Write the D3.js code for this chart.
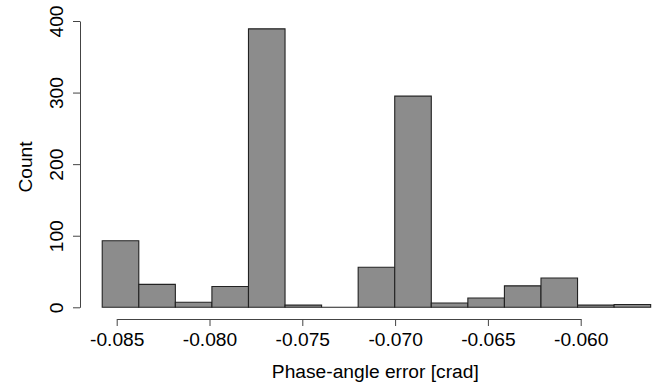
<!DOCTYPE html>
<html><head><meta charset="utf-8">
<script src="https://cdn.jsdelivr.net/npm/d3@7"></script>
<style>body{margin:0;background:#fff}svg{display:block}text{font-family:"Liberation Sans",Arial,sans-serif;fill:#000}</style>
</head><body>
<script>
const breaks = [-0.08578,-0.08381,-0.08184,-0.07987,-0.07790,-0.07593,-0.07396,-0.07199,-0.07002,-0.06805,-0.06608,-0.06411,-0.06214,-0.06017,-0.05820,-0.05623];
const counts = [93,32,7,29,389,3,0,56,295,6,13,30,41,3,4];
const xTicks = [-0.085,-0.080,-0.075,-0.070,-0.065,-0.060];
const xTickLabels = ["-0.085","-0.080","-0.075","-0.070","-0.065","-0.060"];
const yTicks = [0,100,200,300,400];
const xTitle = "Phase-angle error [crad]";
const yTitle = "Count";

const W=655,H=385;
const svg=d3.select("body").append("svg").attr("width",W).attr("height",H);
const x=d3.scaleLinear().domain([-0.085,-0.060]).range([116.7,580.7]);
const y=d3.scaleLinear().domain([0,400]).range([307.3,21]);
const fs=19.2;

const bins=counts.map((c,i)=>({x0:breaks[i],x1:breaks[i+1],c}));
svg.append("g").selectAll("path").data(bins).join("path")
  .attr("d",d=>{const a=x(d.x0),b=x(d.x1),t=y(d.c),z=y(0);return `M${a},${z}H${b}V${t}H${a}Z`;})
  .attr("fill","#8c8c8c").attr("stroke","#222").attr("stroke-width",1.1);

const xa=svg.append("g").attr("transform","translate(0,319)")
  .call(d3.axisBottom(x).tickValues(xTicks).tickFormat((d,i)=>xTickLabels[i]).tickSize(7).tickSizeOuter(0).tickPadding(6));
xa.selectAll("text").attr("font-size",fs).attr("font-family","Liberation Sans, Arial, sans-serif").attr("fill","#000");
xa.selectAll("path,line").attr("stroke","#444");

const ya=svg.append("g").attr("transform","translate(80,0)")
  .call(d3.axisLeft(y).tickValues(yTicks).tickSize(7).tickSizeOuter(0).tickFormat(d3.format("d")));
ya.selectAll("path,line").attr("stroke","#444");
ya.selectAll("text").attr("font-size",fs).attr("font-family","Liberation Sans, Arial, sans-serif").attr("fill","#000")
  .attr("text-anchor","middle").attr("dy",null).attr("x",null)
  .attr("transform","translate(-17,0) rotate(-90)").attr("dy","0em");

svg.append("text").attr("x",375.3).attr("y",378).attr("text-anchor","middle").attr("font-size",fs).text(xTitle);
svg.append("text").attr("transform","translate(32,167) rotate(-90)").attr("text-anchor","middle").attr("font-size",fs).text(yTitle);
</script>
</body></html>
